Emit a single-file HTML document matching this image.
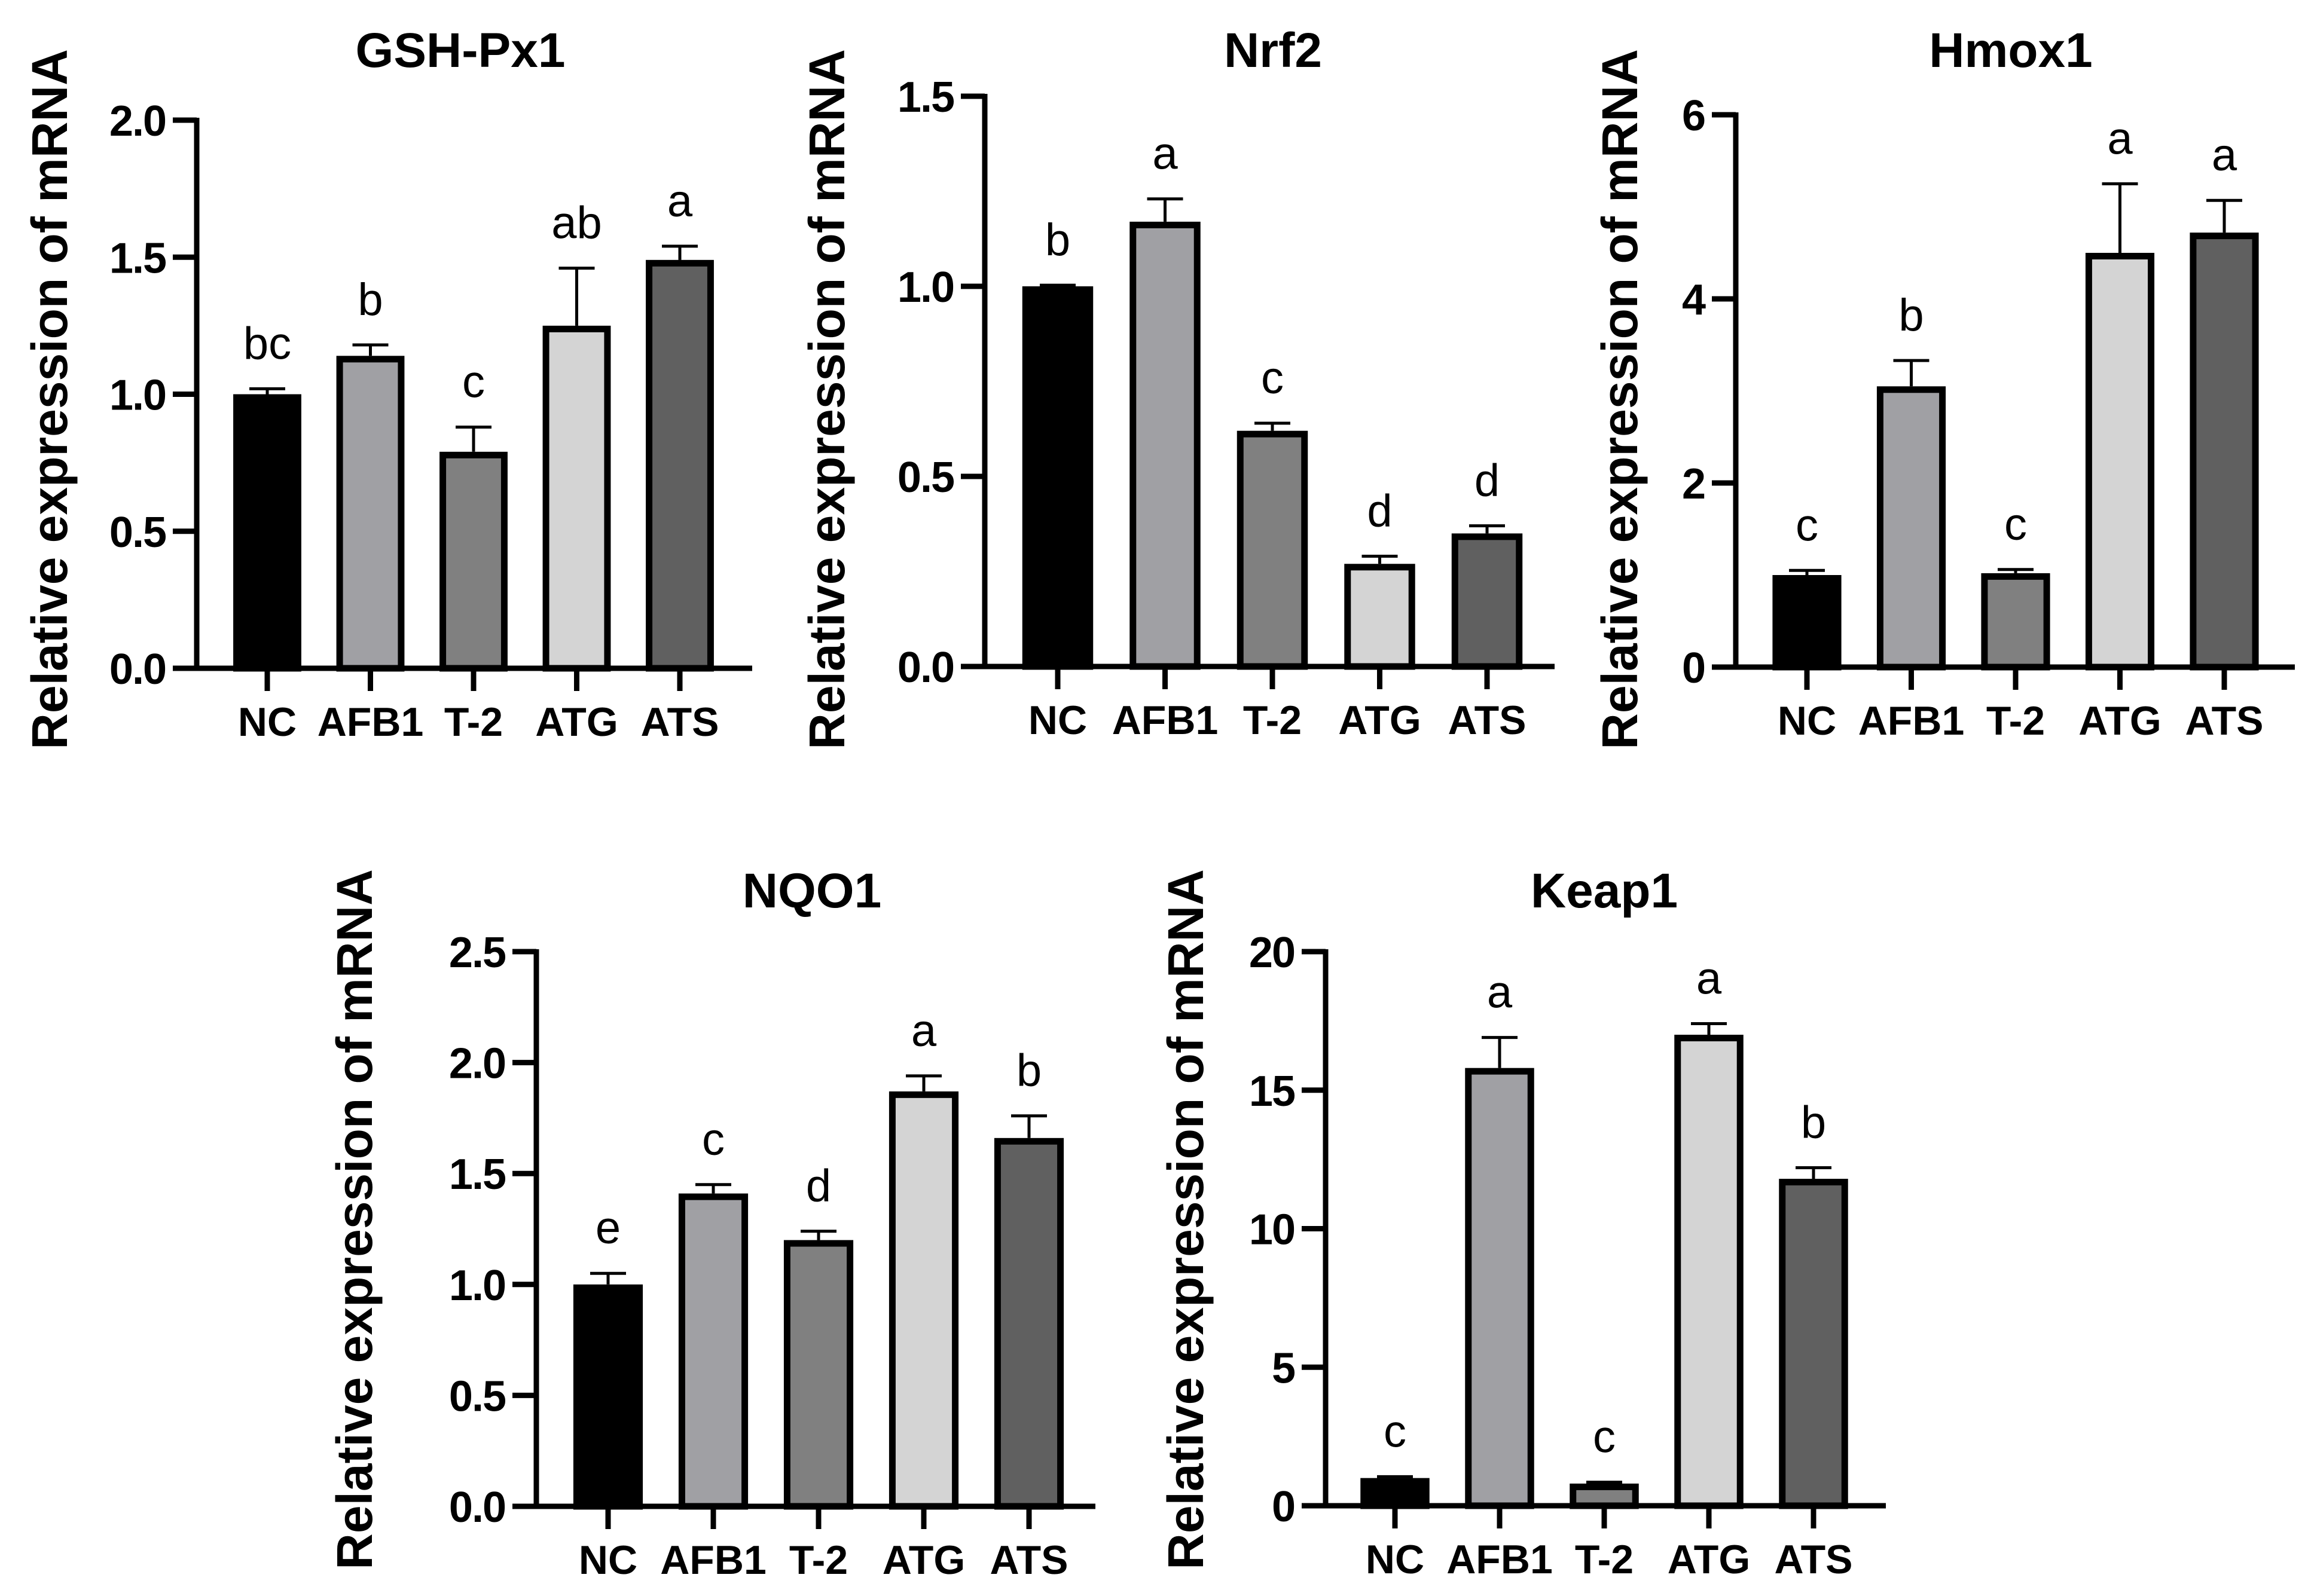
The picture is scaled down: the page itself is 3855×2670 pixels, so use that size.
<!DOCTYPE html>
<html><head><meta charset="utf-8">
<style>
html,body{margin:0;padding:0;background:#fff;}
svg{display:block;}
text{font-family:"Liberation Sans",Arial,sans-serif;fill:#000;}
</style></head>
<body>
<svg id="fig" width="3855" height="2670" viewBox="0 0 3855 2670" xmlns="http://www.w3.org/2000/svg"></svg>
<script>
const categories = ["NC","AFB1","T-2","ATG","ATS"];
const gshValues = [1.00,1.14,0.79,1.25,1.49];
const gshErrors = [0.02,0.04,0.09,0.21,0.05];
const gshLetters = ["bc","b","c","ab","a"];
const gshTicks = ["0.0","0.5","1.0","1.5","2.0"];
const nrf2Values = [1.00,1.17,0.62,0.27,0.35];
const nrf2Errors = [0.003,0.06,0.02,0.02,0.02];
const nrf2Letters = ["b","a","c","d","d"];
const nrf2Ticks = ["0.0","0.5","1.0","1.5"];
const hmoxValues = [1.00,3.05,1.02,4.50,4.72];
const hmoxErrors = [0.05,0.28,0.04,0.75,0.35];
const hmoxLetters = ["c","b","c","a","a"];
const hmoxTicks = ["0","2","4","6"];
const nqoValues = [1.00,1.41,1.20,1.87,1.66];
const nqoErrors = [0.05,0.04,0.04,0.07,0.10];
const nqoLetters = ["e","c","d","a","b"];
const nqoTicks = ["0.0","0.5","1.0","1.5","2.0","2.5"];
const keapValues = [1.0,15.8,0.8,17.0,11.8];
const keapErrors = [0.05,1.1,0.05,0.4,0.4];
const keapLetters = ["c","a","c","a","b"];
const keapTicks = ["0","5","10","15","20"];

const fills = ["#000000","#a0a0a4","#808080","#d4d4d4","#606060"];
const NS = "http://www.w3.org/2000/svg";
const svg = document.getElementById('fig');

function mk(tag, attrs, parent){
  const e = document.createElementNS(NS, tag);
  for (const k in attrs) e.setAttribute(k, attrs[k]);
  parent.appendChild(e);
  return e;
}

function panel(cfg){
  const g = mk('g', {}, svg);
  
  
  const ymax = parseFloat(cfg.ticks[cfg.ticks.length-1]);
  const yScale = v => cfg.y0 - (v / ymax) * (cfg.y0 - cfg.yTop);
  const xScale = i => cfg.x0 + cfg.first + i * cfg.step;
  const bw = cfg.step * 0.66;

  const t = mk('text', {x: cfg.titleX, y: cfg.titleY, 'font-size': 82, 'font-weight': 'bold', 'text-anchor': 'middle'}, g);
  t.textContent = cfg.title;
  
  

  const yl = mk('text', {x: 0, y: 0, 'font-size': 84, 'font-weight': 'bold', 'text-anchor': 'middle',
    transform: `translate(${cfg.ylX},${cfg.ylY}) rotate(-90)`}, g);
  yl.textContent = 'Relative expression of mRNA';
  
  

  cfg.values.forEach((v, i) => {
    const cx = xScale(i);
    const top = yScale(v);
    const r = mk('rect', {x: cx - bw/2 + 5.5, y: top + 5.5, width: bw - 11, height: Math.max(cfg.y0 - top - 5.5, 0),
      fill: fills[i], stroke: '#000', 'stroke-width': 11}, g);
    
    
    const et = yScale(v + cfg.errors[i]);
    const eb = mk('path', {d: `M${cx},${top} L${cx},${et} M${cx - 30},${et} L${cx + 30},${et}`, stroke: '#000', 'stroke-width': 5, fill: 'none'}, g);
    
    
    const lt = mk('text', {x: cx, y: et - 50, 'font-size': 76, 'text-anchor': 'middle'}, g);
    lt.textContent = cfg.letters[i];
    
    
    const xt = mk('line', {x1: cx, x2: cx, y1: cfg.y0, y2: cfg.y0 + 38, stroke: '#000', 'stroke-width': 9}, g);
    
    
    const xl = mk('text', {x: cx, y: cfg.y0 + 113, 'font-size': 68, 'font-weight': 'bold', 'text-anchor': 'middle'}, g);
    xl.textContent = categories[i];
    
    
  });

  cfg.ticks.forEach(tk => {
    const y = yScale(parseFloat(tk));
    const tl = mk('line', {x1: cfg.x0 - 40, x2: cfg.x0, y1: y, y2: y, stroke: '#000', 'stroke-width': 9}, g);
    
    
    const tt = mk('text', {x: cfg.x0 - 52, y: y + 26, 'font-size': 72, 'font-weight': 'bold', 'text-anchor': 'end', 'letter-spacing': '-2'}, g);
    tt.textContent = tk;
    
    
  });

  const ya = mk('line', {x1: cfg.x0, x2: cfg.x0, y1: cfg.yTop - 4, y2: cfg.y0 + 4, stroke: '#000', 'stroke-width': 9}, g);
  
  
  const xa = mk('line', {x1: cfg.x0 - 40, x2: cfg.xEnd, y1: cfg.y0, y2: cfg.y0, stroke: '#000', 'stroke-width': 9}, g);
  
  
}

panel({id:'gsh-px1', title:'GSH-Px1', values:gshValues, errors:gshErrors, letters:gshLetters, ticks:gshTicks,
  x0:329, y0:1118, yTop:201, xEnd:1258, first:118, step:172.5, titleX:770, titleY:112, ylX:112, ylY:668});
panel({id:'nrf2', title:'Nrf2', values:nrf2Values, errors:nrf2Errors, letters:nrf2Letters, ticks:nrf2Ticks,
  x0:1647, y0:1115, yTop:161, xEnd:2600, first:122, step:179.5, titleX:2129, titleY:112, ylX:1412, ylY:668});
panel({id:'hmox1', title:'Hmox1', values:hmoxValues, errors:hmoxErrors, letters:hmoxLetters, ticks:hmoxTicks,
  x0:2903, y0:1116, yTop:192, xEnd:3838, first:119, step:174.5, titleX:3363, titleY:112, ylX:2738, ylY:668});
panel({id:'nqo1', title:'NQO1', values:nqoValues, errors:nqoErrors, letters:nqoLetters, ticks:nqoTicks,
  x0:897, y0:2520, yTop:1592, xEnd:1832, first:120, step:176, titleX:1358, titleY:1518, ylX:622, ylY:2040});
panel({id:'keap1', title:'Keap1', values:keapValues, errors:keapErrors, letters:keapLetters, ticks:keapTicks,
  x0:2217, y0:2519, yTop:1592, xEnd:3154, first:116, step:175, titleX:2683, titleY:1518, ylX:2012, ylY:2040});
</script>
</body></html>
